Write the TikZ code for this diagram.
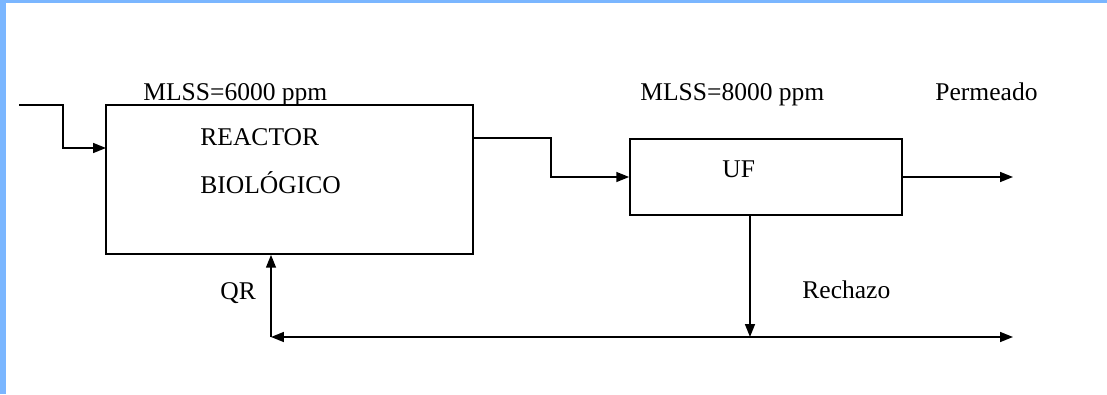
\documentclass[tikz,border=0pt]{standalone}
\usepackage{fontspec}
\setmainfont{Liberation Serif}
\usetikzlibrary{arrows.meta,positioning}
\definecolor{frameblue}{RGB}{122,182,255}

\begin{document}
\begin{tikzpicture}[x=0.47pt, y=-0.47pt,
    font=\fontsize{12}{14}\selectfont,
    block/.style={draw, rectangle, line width=0.8pt, inner sep=0pt},
    label/.style={inner sep=0pt, anchor=base west},
    tip/.tip={Triangle[length=6pt, width=4.6pt]},
    flow/.style={line width=0.8pt, -tip}]
            % Frame
            \useasboundingbox (0,0) rectangle (1107,394);
            \fill[frameblue] (0,0) rectangle (1107,3);
            \fill[frameblue] (0,0) rectangle (6,394);

            % Reactor
            \node[block, minimum width=172.5pt, minimum height=70pt] (reactor) at (289.5,179.5) {};
            \node[label] (reactorA) at (200,145) {REACTOR};
            \node[label] (reactorB) at (200,193) {BIOLÓGICO};
            \node[label] (mlssA) at (143,100) {MLSS=6000 ppm};

            % Ultrafiltration
            \node[block, minimum width=127.8pt, minimum height=35.7pt] (uf) at (766,177) {};
            \node[label] (uftext) at (722,177) {UF};
            \node[label] (mlssB) at (640,100) {MLSS=8000 ppm};
            \node[label] (perm) at (935,100) {Permeado};

            % Flow points
            \coordinate (feed) at (19,105);
            \coordinate (rin) at (106,148);
            \coordinate (permout) at (1013,177);
            \coordinate (split) at (750,337);
            \coordinate (qr) at (271,337);
            \coordinate (waste) at (1013,337);

            % Arrows
            \draw[flow] (feed) -- ++(44,0) |- (rin);
            \draw[flow] (reactor.east |- uf.north) -- ++(77,0) |- (uf.west);
            \draw[flow] (uf.east) -- (permout);
            \draw[flow] (split |- uf.south) -- (split);
            \draw[flow, tip-tip] (qr) -- (waste);
            \draw[flow] (qr) -- (qr |- reactor.south);

            % Stream labels
            \node[label] (qrtext) at (220,299) {QR};
            \node[label] (rech) at (802,298) {Rechazo};
        \end{tikzpicture}
\end{document}
